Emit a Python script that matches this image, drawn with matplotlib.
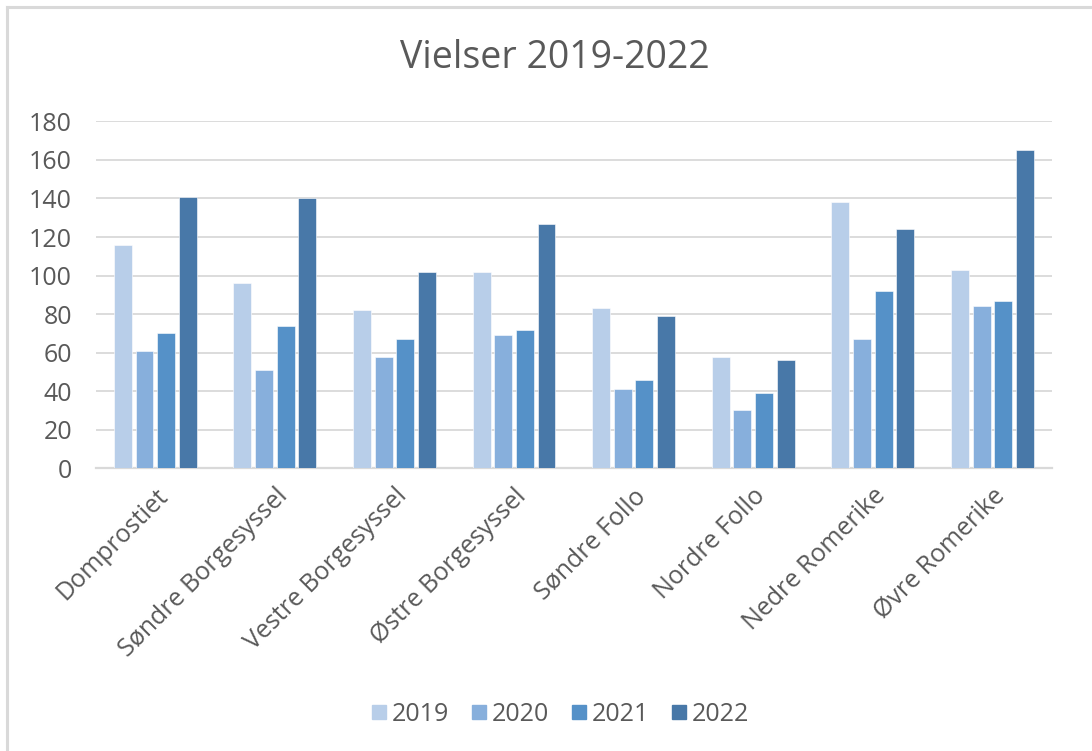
import numpy as np
import matplotlib
matplotlib.use("Agg")
import matplotlib.pyplot as plt
from matplotlib.lines import Line2D

plt.rcParams['font.family'] = ['Open Sans', 'DejaVu Sans']

# data
categories = ["Domprostiet", "Søndre Borgesyssel", "Vestre Borgesyssel",
              "Østre Borgesyssel", "Søndre Follo", "Nordre Follo",
              "Nedre Romerike", "Øvre Romerike"]
years = ["2019", "2020", "2021", "2022"]
v2019 = [116, 96, 82, 102, 83, 58, 138, 103]
v2020 = [61, 51, 58, 69, 41, 30, 67, 84]
v2021 = [70, 74, 67, 72, 46, 39, 92, 87]
v2022 = [141, 140, 102, 127, 79, 56, 124, 165]
yticks = [0, 20, 40, 60, 80, 100, 120, 140, 160, 180]

colors = ["#B8CEE9", "#87AFDC", "#5591C8", "#4878A8"]
text_color = "#595959"
grid_color = "#D9D9D9"

fig = plt.figure(figsize=(10.92, 7.51), dpi=100)
ax = fig.add_axes([0.0875, 0.3764, 0.876, 0.462])

x = np.arange(len(categories))
width = 0.15
step = 0.181
series = [v2019, v2020, v2021, v2022]
for i, vals in enumerate(series):
    ax.bar(x + (i - 1.5) * step, vals, width, color=colors[i],
           edgecolor="white", linewidth=0.4, zorder=3)

ax.set_xlim(-0.5, len(categories) - 0.5)
ax.set_ylim(0, 180)
ax.set_yticks(yticks)
ax.yaxis.grid(True, color=grid_color, linewidth=1.3, zorder=0)
ax.set_axisbelow(True)
for s in ["top", "right", "left"]:
    ax.spines[s].set_visible(False)
ax.spines["bottom"].set_color(grid_color)
ax.spines["bottom"].set_linewidth(1.6)
ax.tick_params(axis="both", length=0, labelsize=18, colors=text_color)
ax.tick_params(axis="y", pad=17)
ax.set_xticks(x)
ax.set_xticklabels(categories, rotation=45, ha="right", rotation_mode="anchor")
ax.tick_params(axis="x", pad=11)

fig.text(0.508, 0.923, "Vielser 2019-2022", ha="center", va="center",
         fontsize=27, color=text_color)

handles = [Line2D([], [], marker="s", linestyle="none", markersize=9.5,
                  markerfacecolor=c, markeredgecolor=c) for c in colors]
fig.legend(handles, years, loc="center", bbox_to_anchor=(0.513, 0.049),
           ncol=4, frameon=False, fontsize=18, handletextpad=0.2,
           handlelength=0.6, columnspacing=0.9, labelcolor=text_color)

# outer border (top and left only visible)
fig.add_artist(Line2D([0.0065, 0.0065], [0, 0.991], transform=fig.transFigure,
                      color=grid_color, linewidth=2.2))
fig.add_artist(Line2D([0.0065, 1.0], [0.991, 0.991], transform=fig.transFigure,
                      color=grid_color, linewidth=2.2))

fig.savefig("out.png", dpi=100)
